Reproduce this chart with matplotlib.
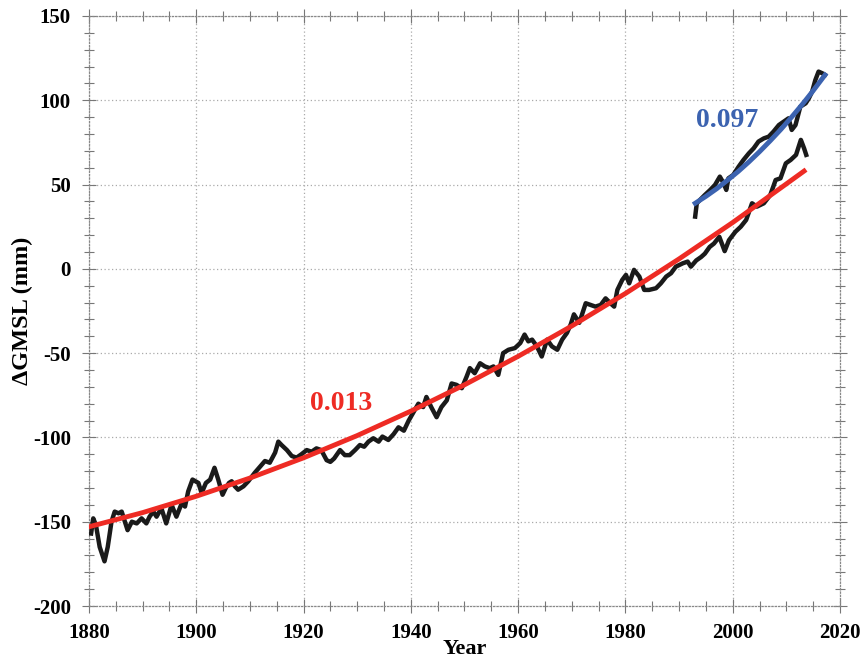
import numpy as np
from matplotlib import pyplot as plt
from matplotlib.ticker import MultipleLocator

# tide gauge GMSL (mm)
tg_year = [1880.4, 1880.8, 1881.3, 1882.0, 1882.9, 1883.5, 1884.2, 1884.8, 1885.5, 1886.1,
           1886.6, 1887.2, 1888.0, 1888.9, 1889.8, 1890.7, 1891.3, 1892.0, 1892.6, 1893.5,
           1894.4, 1895.4, 1896.3, 1897.3, 1897.9, 1898.5, 1899.3, 1900.4, 1901.0, 1901.8,
           1902.6, 1903.4, 1904.1, 1904.9, 1905.5, 1906.1, 1906.6, 1907.2, 1907.8, 1908.8,
           1909.7, 1910.9, 1912.0, 1912.8, 1913.7, 1914.7, 1915.3, 1915.9, 1916.9, 1917.8,
           1918.7, 1919.6, 1920.6, 1921.5, 1922.4, 1923.3, 1924.3, 1925.0, 1925.7, 1926.8,
           1927.7, 1928.6, 1929.6, 1930.5, 1931.3, 1932.1, 1933.0, 1934.0, 1934.7, 1935.8,
           1936.8, 1937.7, 1938.7, 1939.6, 1940.5, 1941.4, 1942.3, 1942.9, 1943.8, 1944.8,
           1945.7, 1946.7, 1947.6, 1948.5, 1949.5, 1950.4, 1951.0, 1951.9, 1952.9, 1953.8,
           1954.7, 1955.4, 1956.3, 1957.2, 1958.2, 1959.4, 1960.4, 1961.2, 1961.9, 1962.6,
           1963.5, 1964.4, 1965.4, 1966.3, 1967.3, 1968.2, 1969.1, 1969.8, 1970.4, 1971.4,
           1972.6, 1973.5, 1974.4, 1975.4, 1976.3, 1977.2, 1977.9, 1978.5, 1979.4, 1980.1,
           1980.7, 1981.6, 1982.6, 1983.5, 1984.4, 1985.7, 1986.6, 1987.6, 1988.5, 1989.4,
           1990.7, 1991.6, 1992.2, 1993.2, 1994.1, 1994.8, 1995.7, 1996.5, 1997.5, 1998.5,
           1999.3, 2000.5, 2001.5, 2002.5, 2003.6, 2004.5, 2005.8, 2007.0, 2008.0, 2008.9,
           2009.9, 2010.8, 2011.8, 2012.7, 2013.3, 2013.7]
tg_gmsl = [-157, -148, -152, -165, -173.5, -165, -150, -144, -145, -144,
           -149, -155, -150, -151, -148, -151, -147, -144, -147, -142,
           -151, -140, -147, -139, -141, -132, -125, -127, -133, -127,
           -125, -118, -125, -134, -130, -127, -126, -129, -131, -129,
           -126, -121, -117, -114, -115, -109, -102.5, -104.5, -107.5, -111,
           -112, -110, -107.5, -108.5, -106.5, -107.5, -113.5, -114.5, -112.5, -107.5,
           -110.5, -110.5, -107.5, -104.5, -105.5, -102.5, -100.5, -102.5, -99.5, -101.5,
           -98, -94, -96, -90, -85, -80, -82, -76, -82, -88,
           -82, -78, -68, -68.8, -70.8, -63.9, -58.9, -61.9, -56, -57.9,
           -58.9, -57.9, -62.9, -50, -48, -47, -44, -39, -43, -42,
           -46, -52, -42, -46, -48, -42, -38, -33, -27, -32,
           -20.4, -21.4, -22.4, -21.4, -17.5, -20.4, -22.4, -12.5, -6.6, -3.6,
           -8.6, -0.6, -4.6, -12.5, -12.5, -11.5, -8.6, -4.6, -2.6, 1.3,
           3.3, 4.3, 1.3, 5, 7, 9, 13, 15, 19, 10.5,
           17, 22, 25, 29, 38.9, 36.9, 38.9, 43.8, 52.7, 53.7,
           62.6, 64.6, 67.6, 76.5, 71.5, 67.6]

# satellite altimetry GMSL (mm)
sat_year = [1993.0, 1993.3, 1993.9, 1994.8, 1995.8, 1996.7, 1997.6, 1998.3, 1998.8, 1999.2,
            2000.1, 2001.1, 2002.0, 2003.0, 2003.9, 2004.8, 2005.8, 2006.7, 2007.6, 2008.6,
            2009.5, 2010.4, 2011.0, 2011.7, 2012.6, 2013.6, 2014.2, 2014.8, 2015.4, 2016.0,
            2016.7, 2017.2]
sat_gmsl = [31, 38.9, 40.9, 43.8, 46.8, 49.8, 54.7, 50.8, 46.8, 53.7,
            55.7, 60.6, 64.6, 68.5, 71.5, 75.5, 77.4, 78.4, 81.4, 85.3,
            87.3, 89.3, 82.4, 85.3, 96.2, 98.2, 101.2, 105.1, 112, 117,
            116, 115]

# fitted curves
fit_tg_year = [1880, 1890, 1900, 1910, 1920, 1930, 1940, 1950, 1960, 1970, 1980, 1990, 2000, 2010, 2013.3]
fit_tg = [-153, -144.6, -134.9, -124.1, -112.1, -98.9, -84.4, -68.8, -51.9, -33.9, -14.6, 5.9, 27.5, 50.4, 58]
fit_sat_year = [1993, 1995, 1997, 1999, 2001, 2003, 2005, 2007, 2009, 2011, 2013, 2015, 2017.2]
fit_sat = [38.9, 43.0, 47.5, 52.5, 57.7, 63.4, 69.5, 76.0, 82.8, 90.1, 97.7, 105.7, 115]

plt.rcParams['font.family'] = ['Liberation Serif', 'DejaVu Serif']
plt.rcParams['font.weight'] = 'bold'
plt.rcParams['axes.unicode_minus'] = False

fig = plt.figure(figsize=(8.62, 6.6), dpi=100)
ax = fig.add_axes([0.1032, 0.0818, 0.8713, 0.894])

ax.plot(tg_year, tg_gmsl, color='#1a1a1a', lw=3.2, solid_joinstyle='round', zorder=3)
ax.plot(sat_year, sat_gmsl, color='#1a1a1a', lw=3.2, solid_joinstyle='round', zorder=3)
ax.plot(fit_tg_year, fit_tg, color='#ee2b24', lw=3.5, zorder=4)
ax.plot(fit_sat_year, fit_sat, color='#3c63b0', lw=3.5, zorder=4)

ax.text(1927, -80, '0.013', color='#ee2b24', fontsize=20, fontweight='bold', ha='center', va='center')
ax.text(1998.9, 88, '0.097', color='#3c63b0', fontsize=20, fontweight='bold', ha='center', va='center')

ax.set_xlim(1880, 2020)
ax.set_ylim(-200, 150)
ax.xaxis.set_major_locator(MultipleLocator(20))
ax.xaxis.set_minor_locator(MultipleLocator(5))
ax.yaxis.set_major_locator(MultipleLocator(50))
ax.yaxis.set_minor_locator(MultipleLocator(10))
ax.tick_params(which='major', direction='inout', length=10, width=0.8, color='#777777',
               top=True, right=True, labelsize=15)
ax.tick_params(which='minor', direction='inout', length=7, width=0.8, color='#777777',
               top=True, right=True)
ax.tick_params(axis='x', which='major', pad=7)
ax.tick_params(axis='y', which='major', pad=8)
for lab in ax.get_xticklabels() + ax.get_yticklabels():
    lab.set_fontweight('bold')

ax.grid(True, which='major', linestyle=(0, (1, 2)), color='#aaaaaa', lw=0.9)
for s in ax.spines.values():
    s.set_color('#888888')
    s.set_linestyle(':')
    s.set_linewidth(0.9)

ax.set_xlabel('Year', fontsize=16, fontweight='bold', labelpad=-3)
ax.set_ylabel('ΔGMSL (mm)', fontsize=17.5, fontweight='bold', labelpad=0)

fig.savefig('out.png', dpi=100)
